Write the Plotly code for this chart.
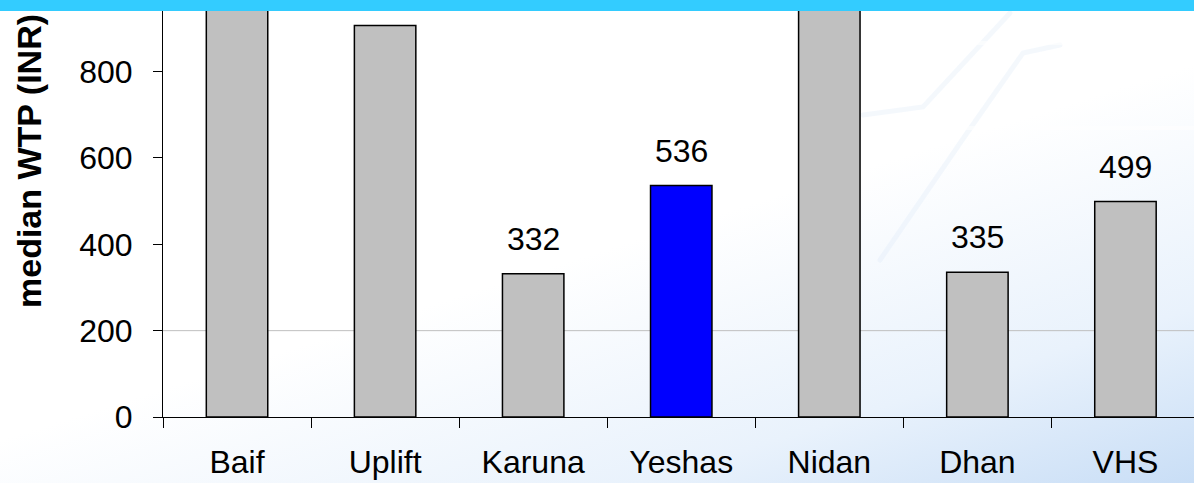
import base64
import plotly.graph_objects as go

# ---- data ----
categories = ["Baif", "Uplift", "Karuna", "Yeshas", "Nidan", "Dhan", "VHS"]
wtp_values = [1150, 907, 332, 536, 1100, 335, 499]   # Baif / Nidan exceed the visible range
highlight = "Yeshas"
y_ticks = [0, 200, 400, 600, 800]
y_title = "median WTP (INR)"

# ---- style ----
W, H = 1194, 483
L, R, T, B = 163, 0, 0, 66
PW, PH = W - L - R, H - T - B
PX_PER_UNIT = 0.43175
BANNER_H = 11
LABEL_SHIFT, LABEL_H = 15, 38
FONT = "Liberation Sans, Arial, sans-serif"
GRAY, BLUE = "#C0C0C0", "#0000FF"

bar_colors = [BLUE if c == highlight else GRAY for c in categories]

svg = f"""<svg xmlns='http://www.w3.org/2000/svg' width='{W}' height='{H}'>
<defs><linearGradient id='g' x1='0.3' y1='0.1' x2='1' y2='1'>
<stop offset='0' stop-color='#ffffff'/><stop offset='0.4' stop-color='#ffffff'/>
<stop offset='0.75' stop-color='#e9f2fc'/><stop offset='1' stop-color='#c9def6'/></linearGradient></defs>
<rect width='{W}' height='{H}' fill='url(#g)'/>
<g fill='none' stroke='#dce9f8' stroke-width='5' stroke-linecap='round' opacity='0.3'>
<path d='M863 115 L923 107 L1010 13'/>
<path d='M880 260 L967 133 L1023 53 L1060 45'/>
</g>
<g stroke='#ffffff' stroke-width='4' opacity='0.6'>
<path d='M860 43 L1194 43'/><path d='M860 128 L1194 128'/>
</g>
</svg>"""
bg_uri = "data:image/svg+xml;base64," + base64.b64encode(svg.encode()).decode()

fig = go.Figure()
fig.add_trace(go.Bar(
    x=categories, y=wtp_values,
    marker=dict(color=bar_colors, line=dict(color="black", width=1.5)),
    width=0.415, hoverinfo="skip",
))

annotations = []
for c, v in zip(categories, wtp_values):
    # value labels that would sit under the top banner are hidden (as in the original)
    fits = PH - v * PX_PER_UNIT - LABEL_SHIFT - LABEL_H > BANNER_H
    annotations.append(dict(
        x=c, y=v, xref="x", yref="y", text=str(v), showarrow=False, visible=fits,
        yanchor="bottom", yshift=LABEL_SHIFT, font=dict(family=FONT, size=32, color="black"),
    ))
# axis title
annotations.append(dict(
    xref="paper", yref="paper", x=0, xshift=-(L - 29), xanchor="center",
    y=(PH - 305) / PH, yanchor="bottom", yshift=-5, textangle=-90, text=f"<b>{y_title}</b>",
    showarrow=False, font=dict(family=FONT, size=34, color="black"),
))
# top banner (drawn last, over everything)
annotations.append(dict(
    xref="paper", yref="paper", x=-L / PW, xanchor="left", y=1, yanchor="top",
    text=" ", showarrow=False, width=W + 10, height=BANNER_H, bgcolor="#33CCFF",
    borderpad=0, borderwidth=0,
))

fig.update_layout(
    width=W, height=H,
    margin=dict(l=L, r=R, t=T, b=B, pad=0),
    paper_bgcolor="white", plot_bgcolor="rgba(0,0,0,0)",
    showlegend=False,
    font=dict(family=FONT, size=32, color="black"),
    images=[dict(source=bg_uri, xref="paper", yref="paper",
                 x=-L / PW, y=1 + T / PH, sizex=W / PW, sizey=H / PH,
                 xanchor="left", yanchor="top", sizing="stretch", layer="below")],
    shapes=[dict(type="line", xref="paper", x0=0, x1=1, yref="y", y0=200, y1=200,
                 line=dict(color="#BFBFBF", width=1), layer="below")],
    annotations=annotations,
    xaxis=dict(type="category", range=[-0.5, -0.5 + PW / 148.07],
               showline=True, linecolor="black", linewidth=1,
               ticks="outside", tickson="boundaries", ticklen=10, tickcolor="black",
               showgrid=False, zeroline=False, ticklabelstandoff=17,
               tickfont=dict(family=FONT, size=32)),
    yaxis=dict(range=[0, PH / PX_PER_UNIT], tickvals=y_ticks,
               showline=True, linecolor="black", linewidth=1,
               ticks="outside", ticklen=9, tickcolor="black",
               showgrid=False, zeroline=False, ticklabelstandoff=14,
               tickfont=dict(family=FONT, size=32)),
)

fig.write_html("out.html", config={"displayModeBar": False},
               post_script="document.body.style.margin='0';document.body.style.overflow='hidden';")
